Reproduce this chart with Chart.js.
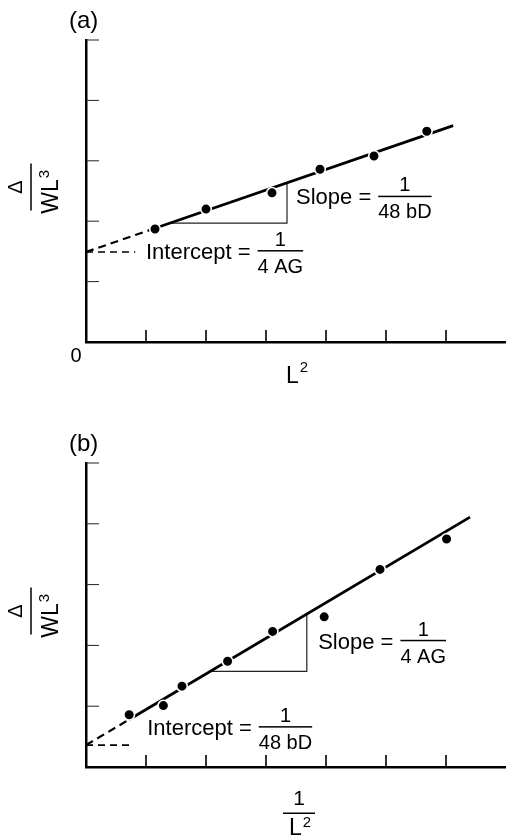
<!DOCTYPE html>
<html>
<head>
<meta charset="utf-8">
<script src="https://cdn.jsdelivr.net/npm/chart.js@4.4.1/dist/chart.umd.min.js"></script>
<style>
body{margin:0;background:#fff;overflow:hidden}
.box{position:absolute;left:0;width:506px}
#boxA{top:0;height:420px}
#boxB{top:420px;height:419px}
</style>
</head>
<body>
<div class="box" id="boxA"><canvas id="chartA"></canvas></div>
<div class="box" id="boxB"><canvas id="chartB"></canvas></div>
<script>
// tick positions (no tick labels in the figure, except the 0)
const xTickVals = [1, 2, 3, 4, 5, 6]
const yTickVals = [1, 2, 3, 4, 5]

// (a)  deflection / WL^3  vs  L^2
const aX = [1.15, 2.0, 3.1, 3.9, 4.8, 5.68]
const aY = [1.87, 2.20, 2.47, 2.86, 3.08, 3.49]
const aFit = [1.49, 0.342]   // intercept, slope

// (b)  deflection / WL^3  vs  1/L^2
const bX = [0.72, 1.29, 1.6, 2.36, 3.11, 3.97, 4.9, 6.01]
const bY = [0.86, 1.01, 1.33, 1.74, 2.23, 2.47, 3.25, 3.75]
const bFit = [0.36, 0.586]

const FONT = "'Liberation Sans', Arial, Helvetica, sans-serif"

const drawFrac = (ctx, lead, num, den, x, y) => {
    ctx.fillStyle = "#000"
    ctx.font = "22px " + FONT
    ctx.textAlign = "left"
    ctx.textBaseline = "alphabetic"
    ctx.fillText(lead, x, y + 8)
    const bx = x + ctx.measureText(lead).width + 7
    ctx.font = "20px " + FONT
    const w = ctx.measureText(den).width
    ctx.fillRect(bx, y - 0.75, w, 1.5)
    ctx.textAlign = "center"
    ctx.fillText(num, bx + w / 2, y - 5)
    ctx.fillText(den, bx + w / 2, y + 22)
}

// base text with superscript, starting at x
const drawSup = (ctx, base, sup, x, y, rise) => {
    ctx.textAlign = "left"
    ctx.font = "23px " + FONT
    ctx.fillText(base, x, y)
    const w = ctx.measureText(base).width
    ctx.font = "15px " + FONT
    ctx.fillText(sup, x + w + 1, y - rise)
}

const innerTicks = {
    id: "innerTicks",
    beforeDatasetsDraw(chart) {
        const {ctx, chartArea: a, scales: {x, y}} = chart
        ctx.save()
        ctx.strokeStyle = "#000"
        ctx.lineWidth = 1.6
        xTickVals.forEach(function(v){
            const px = x.getPixelForValue(v)
            ctx.beginPath()
            ctx.moveTo(px, a.bottom)
            ctx.lineTo(px, a.bottom - 12)
            ctx.stroke()
        })
        ctx.lineWidth = 1
        ctx.strokeStyle = "#222"
        yTickVals.forEach(function(v){
            const py = y.getPixelForValue(v)
            ctx.beginPath()
            ctx.moveTo(a.left, py)
            ctx.lineTo(a.left + 13, py)
            ctx.stroke()
        })
        ctx.restore()
    }
}

const makeChart = (id, xs, ys, fit, o) => {
    const line = v => fit[0] + fit[1] * v
    const pts = xs.map((v, i) => ({x: v, y: ys[i]}))
    const x0 = xs[0]

    const labels = {
        id: "labels",
        afterDraw(chart) {
            const {ctx, chartArea: a, scales: {x, y}} = chart
            ctx.save()
            ctx.fillStyle = "#000"
            ctx.textBaseline = "alphabetic"

            // panel letter
            ctx.font = "24px " + FONT
            ctx.textAlign = "left"
            ctx.fillText(o.panel, 69, a.top - 12)

            // intercept and slope notes
            drawFrac(ctx, "Intercept =", o.intNum, o.intDen,
                x.getPixelForValue(o.intAt[0]), y.getPixelForValue(o.intAt[1]))
            drawFrac(ctx, "Slope =", o.slopeNum, o.slopeDen,
                x.getPixelForValue(o.slopeAt[0]), y.getPixelForValue(o.slopeAt[1]))

            // y axis title  Δ / WL³ (rotated)
            ctx.save()
            ctx.translate(31, (a.top + a.bottom) / 2 - 4)
            ctx.rotate(-Math.PI / 2)
            ctx.fillRect(-23.5, -0.75, 47, 1.5)
            ctx.font = "20px " + FONT
            ctx.textAlign = "center"
            ctx.fillText("Δ", 0, -9)
            ctx.font = "23px " + FONT
            const wl = ctx.measureText("WL").width
            drawSup(ctx, "WL", "3", -5 - (wl + 9) / 2, 27, 9)
            ctx.restore()

            // x axis title
            if (o.xTitle === "L2") {
                ctx.font = "20px " + FONT
                ctx.textAlign = "center"
                ctx.fillText("0", a.left - 10, a.bottom + 20)
                drawSup(ctx, "L", "2", 286, a.bottom + 41, 11)
            } else {
                ctx.font = "21px " + FONT
                ctx.textAlign = "center"
                ctx.fillText("1", 299, a.bottom + 38)
                ctx.fillRect(283, a.bottom + 45.5, 32, 1.5)
                drawSup(ctx, "L", "2", 289, a.bottom + 68, 8)
            }
            ctx.restore()
        }
    }

    const config = {
        type: "scatter",
        data: {
            datasets: [
                {
                    data: pts,
                    pointRadius: 5.3,
                    pointBackgroundColor: "#000",
                    pointBorderColor: "#fff",
                    pointBorderWidth: 1.6,
                },
                {
                    type: "line",
                    showLine: true,
                    data: [{x: 0, y: line(0)}, {x: x0, y: line(x0)}, {x: o.fitEnd, y: line(o.fitEnd)}],
                    borderColor: "#000",
                    borderWidth: 2.8,
                    pointRadius: 0,
                    segment: {
                        borderDash: c => c.p0DataIndex === 0 ? [8, 5] : undefined,
                        borderWidth: c => c.p0DataIndex === 0 ? 2.2 : undefined,
                    },
                },
                {
                    type: "line",
                    showLine: true,
                    data: [{x: 0, y: fit[0]}, {x: o.guideEnd, y: fit[0]}],
                    borderColor: "#000",
                    borderWidth: 1.6,
                    borderDash: [7, 5],
                    pointRadius: 0,
                },
                {
                    type: "line",
                    showLine: true,
                    data: [{x: o.tri[0], y: line(o.tri[0])}, {x: o.tri[1], y: line(o.tri[0])}, {x: o.tri[1], y: line(o.tri[1])}],
                    borderColor: "#222",
                    borderWidth: 1.2,
                    pointRadius: 0,
                },
            ],
        },
        options: {
            responsive: true,
            maintainAspectRatio: false,
            animation: false,
            events: [],
            layout: {autoPadding: false, padding: {left: 86, right: 0, top: o.top, bottom: o.bottom}},
            plugins: {legend: {display: false}, tooltip: {enabled: false}},
            scales: {
                x: {
                    type: "linear", min: 0, max: 7,
                    ticks: {display: false},
                    grid: {display: false, drawTicks: false},
                    border: {display: true, color: "#000", width: 2.5},
                },
                y: {
                    type: "linear", min: 0, max: 5,
                    ticks: {display: false},
                    grid: {display: false, drawTicks: false},
                    border: {display: true, color: "#000", width: 2.5},
                },
            },
        },
        plugins: [innerTicks, labels],
    }
    return new Chart(document.getElementById(id), config)
}

makeChart("chartA", aX, aY, aFit, {
    panel: "(a)", top: 40, bottom: 78, fitEnd: 6.12, guideEnd: 0.82, tri: [1.4, 3.35],
    intNum: "1", intDen: "4 AG", intAt: [1.0, 1.51],
    slopeNum: "1", slopeDen: "48 bD", slopeAt: [3.5, 2.41],
    xTitle: "L2",
})

makeChart("chartB", bX, bY, bFit, {
    panel: "(b)", top: 43, bottom: 72, fitEnd: 6.4, guideEnd: 0.72, tri: [2.07, 3.68],
    intNum: "1", intDen: "48 bD", intAt: [1.02, 0.66],
    slopeNum: "1", slopeDen: "4 AG", slopeAt: [3.87, 2.08],
    xTitle: "1/L2",
})
</script>
</body>
</html>
